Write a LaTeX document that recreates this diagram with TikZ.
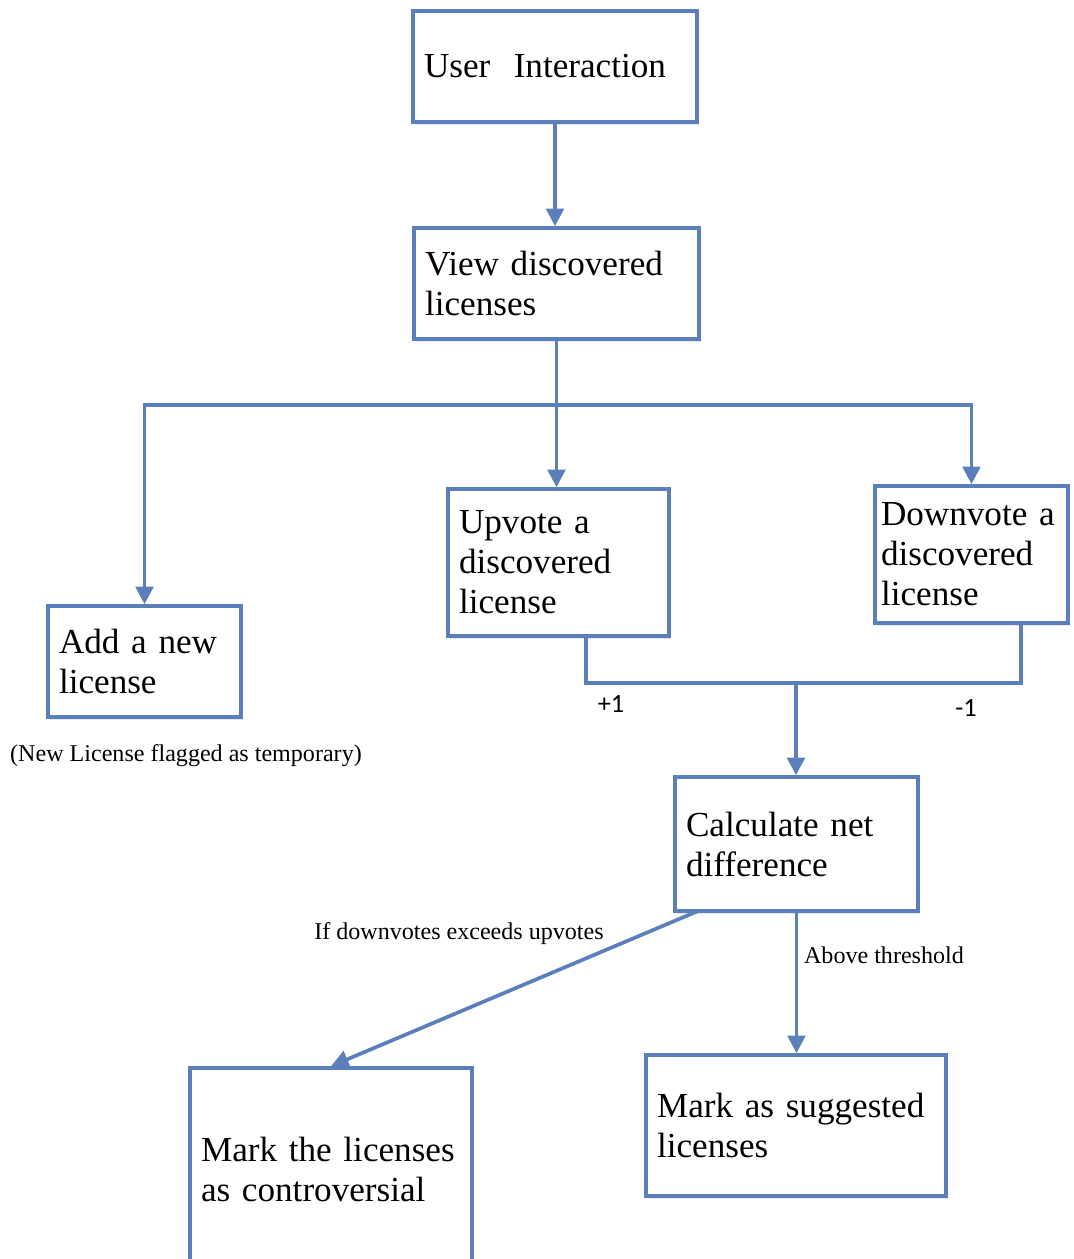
\documentclass[tikz,border=0pt]{standalone}
\usepackage{fontspec}
\setmainfont{Liberation Serif}
\newfontfamily\lblfont{Carlito}
\usetikzlibrary{arrows.meta, positioning, calc, shadows}

\definecolor{flowblue}{RGB}{91,127,186}

\begin{document}
\begin{tikzpicture}[
    x=0.02cm, y=-0.02cm,
    >={Triangle[width=10pt, length=10pt]},
    box/.style={draw=flowblue, line width=2.1pt, fill=white,
                drop shadow={opacity=0.2, shadow xshift=1pt, shadow yshift=-1.5pt},
                inner xsep=0.22cm, align=left,
                font=\fontsize{20}{22.8}\selectfont},
    link/.style={draw=flowblue, line width=2.1pt},
    arrowlink/.style={link, ->},
    note/.style={font=\fontsize{13.7}{16}\selectfont, inner sep=0pt}
  ]
  \useasboundingbox (0,0) rectangle (1073,1259);

  % boxes
  \node[box, minimum width=5.68cm, minimum height=2.22cm, text width=5.24cm]
    (ui) at (555,66.5) {User~~Interaction};
  \node[box, minimum width=5.7cm, minimum height=2.22cm, text width=5.26cm]
    (view) at (556.5,283.5) {View discovered\\licenses};
  \node[box, minimum width=3.86cm, minimum height=2.22cm, text width=3.42cm]
    (add) at (144.5,661.5) {Add a new\\license};
  \node[box, minimum width=4.42cm, minimum height=2.94cm, text width=3.98cm]
    (up) at (558.5,562.5) {Upvote a\\discovered\\license};
  \node[box, minimum width=3.86cm, minimum height=2.74cm, text width=3.62cm,
        inner xsep=0.12cm]
    (down) at (971.5,554.5) {Downvote a\\discovered\\license};
  \node[box, minimum width=4.86cm, minimum height=2.68cm, text width=4.42cm]
    (calc) at (796.5,844) {Calculate net\\difference};
  \node[box, minimum width=5.64cm, minimum height=4.04cm, text width=5.2cm]
    (contro) at (331,1169) {Mark the licenses\\as controversial};
  \node[box, minimum width=6cm, minimum height=2.82cm, text width=5.56cm]
    (sugg) at (796,1125.5) {Mark as suggested\\licenses};

  % free ends
  \coordinate (splitlvl) at (0,405);
  \coordinate (split) at (view.south |- splitlvl);
  \coordinate (upfoot) at (586,636);
  \coordinate (downfoot) at (1021,623);
  \coordinate (merge) at (796,683);
  \coordinate (calcfoot) at (698,911);

  % connectors
  \draw[arrowlink] (ui.south) -- (ui.south |- view.north);
  \draw[link] (view.south) -- (split);
  \draw[arrowlink] (split) -| (add.north);
  \draw[arrowlink] (split) -- (split |- up.north);
  \draw[arrowlink] (split) -| (down.north);
  \draw[link] (upfoot) |- (merge) -| (downfoot);
  \draw[arrowlink] (merge) -- (merge |- calc.north);
  \draw[arrowlink] (calcfoot) -- (contro.north);
  \draw[arrowlink] (calc.south) -- (calc.south |- sugg.north);

  % labels
  \node[note, font=\lblfont\fontsize{15}{17}\selectfont] (plus) at (611,704) {+1};
  \node[note, font=\lblfont\fontsize{15}{17}\selectfont] (minus) at (966,708) {-1};
  \node[note] (temp) at (186,756) {(New License flagged as temporary)};
  \node[note] (cond) at (459,934) {If downvotes exceeds upvotes};
  \node[note] (thresh) at (884,955) {Above threshold};
\end{tikzpicture}
\end{document}
